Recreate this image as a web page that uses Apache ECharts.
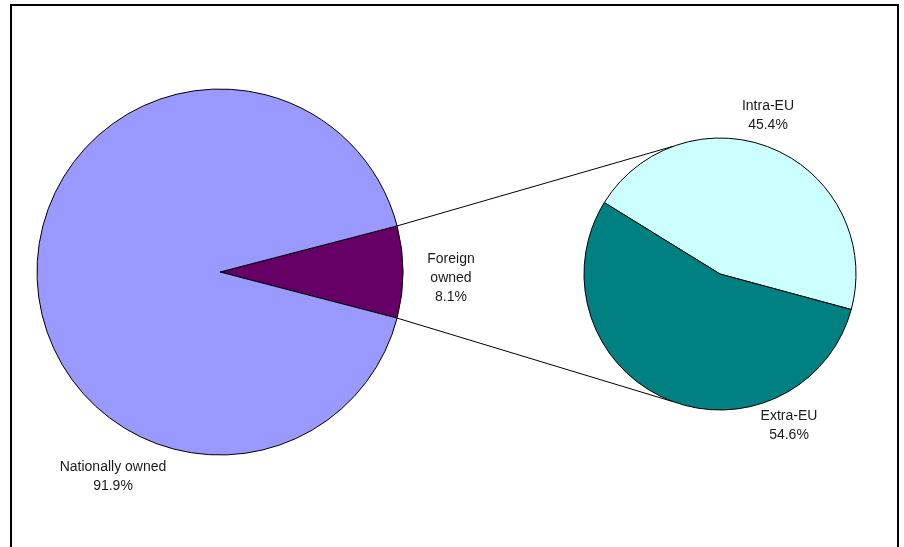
<!DOCTYPE html>
<html>
<head>
<meta charset="utf-8">
<script src="https://cdn.jsdelivr.net/npm/echarts@6/dist/echarts.min.js"></script>
<style>
  html, body { margin: 0; padding: 0; background: #fff; }
  #chart { width: 904px; height: 547px; }
</style>
</head>
<body>
<div id="chart"></div>
<script>
// Ownership split (percent)
const ownershipNames = ['Foreign\nowned', 'Nationally owned'];
const ownershipValues = [8.1, 91.9];
// Breakdown of the foreign-owned share (percent)
const foreignNames = ['Intra-EU', 'Extra-EU'];
const foreignValues = [45.4, 54.6];

const ownershipColors = ['#660066', '#9999FF'];
const foreignColors = ['#CCFFFF', '#008080'];

// Pie geometry (pixels)
const mainPie = { cx: 220, cy: 272, r: 183 };
const subPie = { cx: 720, cy: 274, r: 136 };
const subStart = 148.3;       // start angle of the breakdown pie
const connectorAngle = 110;   // where the connector lines meet the breakdown pie

// Foreign slice is centred on the horizontal axis
const foreignHalf = ownershipValues[0] / 100 * 360 / 2;

// Label anchors
const mainLabelPos = [[451, 278], [113, 477]];
const subLabelPos = [[768, 116], [789, 426]];

const rad = d => d * Math.PI / 180;
const onCircle = (p, a) => [p.cx + p.r * Math.cos(rad(a)), p.cy - p.r * Math.sin(rad(a))];

const topA = onCircle(mainPie, foreignHalf);
const botA = onCircle(mainPie, -foreignHalf);
const topB = onCircle(subPie, connectorAngle);
const botB = onCircle(subPie, -connectorAngle);

const labelStyle = {
  color: '#1a1a1a',
  fontFamily: 'Liberation Sans, Arial, sans-serif',
  fontSize: 14,
  lineHeight: 19,
  align: 'center'
};

const chart = echarts.init(document.getElementById('chart'), null, { renderer: 'canvas' });
chart.setOption({
  backgroundColor: '#fff',
  animation: false,
  graphic: [
    {
      type: 'rect',
      shape: { x: 11, y: 5, width: 887, height: 560 },
      style: { fill: 'none', stroke: '#000', lineWidth: 2 },
      z: 0
    },
    {
      type: 'line',
      shape: { x1: topA[0], y1: topA[1], x2: topB[0], y2: topB[1] },
      style: { stroke: '#000', lineWidth: 1 },
      z: 1
    },
    {
      type: 'line',
      shape: { x1: botA[0], y1: botA[1], x2: botB[0], y2: botB[1] },
      style: { stroke: '#000', lineWidth: 1 },
      z: 1
    }
  ],
  series: [
    {
      type: 'pie',
      center: [mainPie.cx, mainPie.cy],
      radius: [0, mainPie.r],
      startAngle: foreignHalf,
      clockwise: true,
      silent: true,
      avoidLabelOverlap: false,
      itemStyle: { borderColor: '#000', borderWidth: 1 },
      label: Object.assign({
        show: true,
        position: 'outside',
        formatter: p => p.name + '\n' + p.value.toFixed(1) + '%'
      }, labelStyle),
      labelLine: { show: false },
      labelLayout: p => ({
        x: mainLabelPos[p.dataIndex][0],
        y: mainLabelPos[p.dataIndex][1],
        align: 'center',
        verticalAlign: 'middle'
      }),
      data: ownershipNames.map((n, i) => ({
        name: n, value: ownershipValues[i], itemStyle: { color: ownershipColors[i] }
      }))
    },
    {
      type: 'pie',
      center: [subPie.cx, subPie.cy],
      radius: [0, subPie.r],
      startAngle: subStart,
      clockwise: true,
      silent: true,
      avoidLabelOverlap: false,
      itemStyle: { borderColor: '#000', borderWidth: 1 },
      label: Object.assign({
        show: true,
        position: 'outside',
        formatter: p => p.name + '\n' + p.value.toFixed(1) + '%'
      }, labelStyle),
      labelLine: { show: false },
      labelLayout: p => ({
        x: subLabelPos[p.dataIndex][0],
        y: subLabelPos[p.dataIndex][1],
        align: 'center',
        verticalAlign: 'middle'
      }),
      data: foreignNames.map((n, i) => ({
        name: n, value: foreignValues[i], itemStyle: { color: foreignColors[i] }
      }))
    }
  ]
});
</script>
</body>
</html>
